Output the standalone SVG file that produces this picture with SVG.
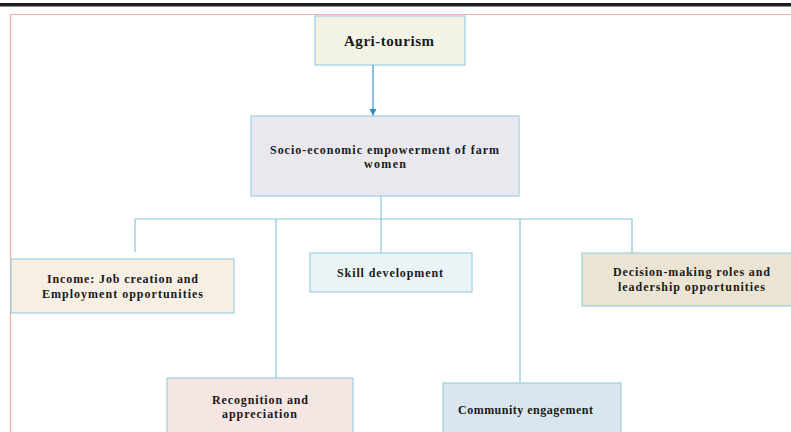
<svg xmlns="http://www.w3.org/2000/svg" width="791" height="432" viewBox="0 0 791 432">
<style>
.box{stroke:#9fcfe0;stroke-width:1.2}
.t{font-family:"Liberation Serif","Times New Roman",serif;font-weight:bold;font-size:12px;fill:#1a1a1a;text-anchor:middle}
.c{fill:none;stroke:#8cc4d8;stroke-width:1.2}
</style>
<defs>
<marker id="ah" markerWidth="8" markerHeight="8" refX="7.5" refY="4" orient="auto" markerUnits="userSpaceOnUse" viewBox="0 0 8 8">
<path d="M1,0.5 L7.5,4 L1,7.5 Z" fill="#2e8bc9"/>
</marker>
</defs>
<rect x="0" y="0" width="791" height="432" fill="#ffffff"/>
<rect x="0" y="3" width="791" height="3.5" fill="#1e1e1e"/>
<rect x="10.5" y="14.5" width="800" height="430" fill="none" stroke="#d85a5a" stroke-width="1.2" stroke-dasharray="1,1"/>
<g id="agri">
<rect class="box" x="315" y="16" width="150" height="49" fill="#f3f3e5"/>
<text class="t" x="389" y="46" style="font-size:15px" textLength="90">Agri-tourism</text>
</g>
<g id="socio">
<rect class="box" x="251" y="116" width="268" height="80" fill="#e8e8ee"/>
<text class="t" x="384.5" y="154" textLength="229">Socio-economic empowerment of farm</text>
<text class="t" x="385" y="168" textLength="42">women</text>
</g>
<g id="income">
<rect class="box" x="11" y="259" width="223" height="54" fill="#f7efe3"/>
<text class="t" x="122.5" y="283" textLength="151">Income: Job creation and</text>
<text class="t" x="122.5" y="298" textLength="161">Employment opportunities</text>
</g>
<g id="skill">
<rect class="box" x="310" y="253" width="162" height="39" fill="#eaf3f5"/>
<text class="t" x="390" y="277" textLength="106">Skill development</text>
</g>
<g id="decision">
<rect class="box" x="582" y="253" width="220" height="53" fill="#ece4d2"/>
<text class="t" x="691.5" y="276" textLength="157">Decision-making roles and</text>
<text class="t" x="691.5" y="291" textLength="147">leadership opportunities</text>
</g>
<g id="recognition">
<rect class="box" x="167" y="378" width="186" height="70" fill="#f5e6e4"/>
<text class="t" x="260" y="404" textLength="96">Recognition and</text>
<text class="t" x="259.5" y="418" textLength="75">appreciation</text>
</g>
<g id="community">
<rect class="box" x="443" y="383" width="178" height="65" fill="#d9e6ee"/>
<text class="t" x="525.5" y="414" textLength="135">Community engagement</text>
</g>
<g id="connectors">
<line class="c" x1="373" y1="65" x2="373" y2="115.5" style="stroke:#3a93c9" marker-end="url(#ah)"/>
<polyline class="c" points="381,196 381,219"/>
<polyline class="c" points="135,252 135,219 632,219 632,253"/>
<line class="c" x1="276" y1="219" x2="276" y2="378"/>
<line class="c" x1="381" y1="219" x2="381" y2="253"/>
<line class="c" x1="520" y1="219" x2="520" y2="383"/>
</g>
</svg>
